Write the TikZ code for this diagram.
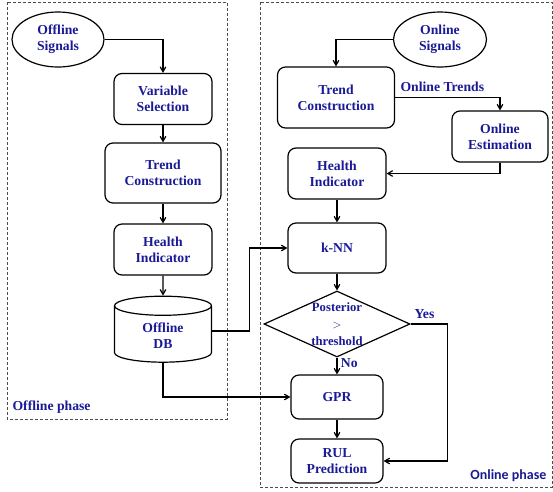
\documentclass[tikz,border=0pt]{standalone}
\usepackage{fontspec}
\setmainfont{Liberation Serif}
\newfontfamily\calfont{Carlito}
\usepackage{tikz}
\usetikzlibrary{shapes.geometric}
\usetikzlibrary{arrows}
\definecolor{txtblue}{RGB}{26,26,150}

\begin{document}
\begin{tikzpicture}[x=1pt,y=1pt]
    \tikzset{
      box/.style={draw, rectangle, rounded corners=8pt, line width=1.2pt, align=center, text=txtblue, font=\fontsize{13.7}{16}\selectfont\bfseries, minimum width=98pt, minimum height=51pt},
      term/.style={draw, ellipse, line width=1.2pt, align=center, text=txtblue, font=\fontsize{13.7}{16}\selectfont\bfseries, minimum width=92pt, minimum height=55pt, inner sep=0pt},
      db/.style={draw, cylinder, shape border rotate=90, aspect=0.4, line width=1.2pt, align=center, text=txtblue, font=\fontsize{13.7}{16}\selectfont\bfseries, minimum width=97pt, minimum height=66pt},
      dec/.style={draw, diamond, aspect=2.2, line width=1.2pt, align=center, text=txtblue, font=\fontsize{12.7}{17}\selectfont\bfseries, minimum width=146pt, minimum height=66pt, inner sep=-4pt},
      lbl/.style={text=txtblue, font=\fontsize{13.7}{16}\selectfont\bfseries},
      phase/.style={draw=gray!60!black, densely dashed, line width=0.6pt},
      line/.style={draw, line width=1.2pt, -angle 60}
    }
    \useasboundingbox (0,0) rectangle (553,-491);
    % phase frames
    \draw [phase] (7,-2) rectangle (227,-419);
    \draw [phase] (260,-2) rectangle (552,-487);
    \node [lbl, anchor=south west] (offph) at (9,-417) {Offline phase};
    \node [text=txtblue, font=\calfont\fontsize{14}{16}\selectfont\bfseries, anchor=south east] (onph) at (550,-485) {Online phase};

    % offline column
    \node [term] (offsig) at (58,-39.5) {Offline\\Signals};
    \node [box] (vs) at (163,-99) {Variable\\Selection};
    \node [box, below of=vs, node distance=74pt, minimum width=116pt, minimum height=60pt] (tc1) {Trend\\Construction};
    \node [box, below of=tc1, node distance=76.5pt] (hi1) {Health\\Indicator};
    \node [db, below of=hi1, node distance=86.5pt] (db) {Offline\\DB};

    % online column
    \node [term, minimum width=93pt] (onsig) at (440,-39.5) {Online\\Signals};
    \node [box, minimum width=117pt, minimum height=61pt] (tc2) at (336,-97.5) {Trend\\Construction};
    \node [box, minimum width=96pt] (oe) at (500,-136.5) {Online\\Estimation};
    \node [box] (hi2) at (337,-173.5) {Health\\Indicator};
    \node [box, below of=hi2, node distance=74.5pt, minimum height=50pt] (knn) {k-NN};
    \node [dec, below of=knn, node distance=76pt] (dec) {Posterior\\$>$\\threshold};
    \node [box, below of=dec, node distance=73pt, minimum width=92pt, minimum height=44pt] (gpr) {GPR};
    \node [box, below of=gpr, node distance=64pt, minimum width=92pt, minimum height=44pt] (rul) {RUL\\Prediction};

    \path [line] (offsig) -| (vs);
    \path [line] (vs) -- (tc1);
    \path [line] (tc1) -- (hi1);
    \path [line] (hi1) -- (db);
    \path [line] ([yshift=5pt]db.east) -- ++(37,0) |- (knn);
    \path [line] (db) |- (gpr);

    \path [line] (onsig) -| (tc2);
    \path [line] (tc2) -| node [lbl, pos=0.225, above, yshift=2pt] (trends) {Online Trends} (oe);
    \path [line] (oe) |- (hi2);
    \path [line] (hi2) -- (knn);
    \path [line] (knn) -- (dec);
    \path [line] (dec) -- node [lbl, right, pos=0.3] (no) {No} (gpr);
    \path [line] (dec.east) -- node [lbl, above right, pos=0, yshift=1pt] (yes) {Yes} ++(37,0) |- (rul);
    \path [line] (gpr) -- (rul);
\end{tikzpicture}
\end{document}
